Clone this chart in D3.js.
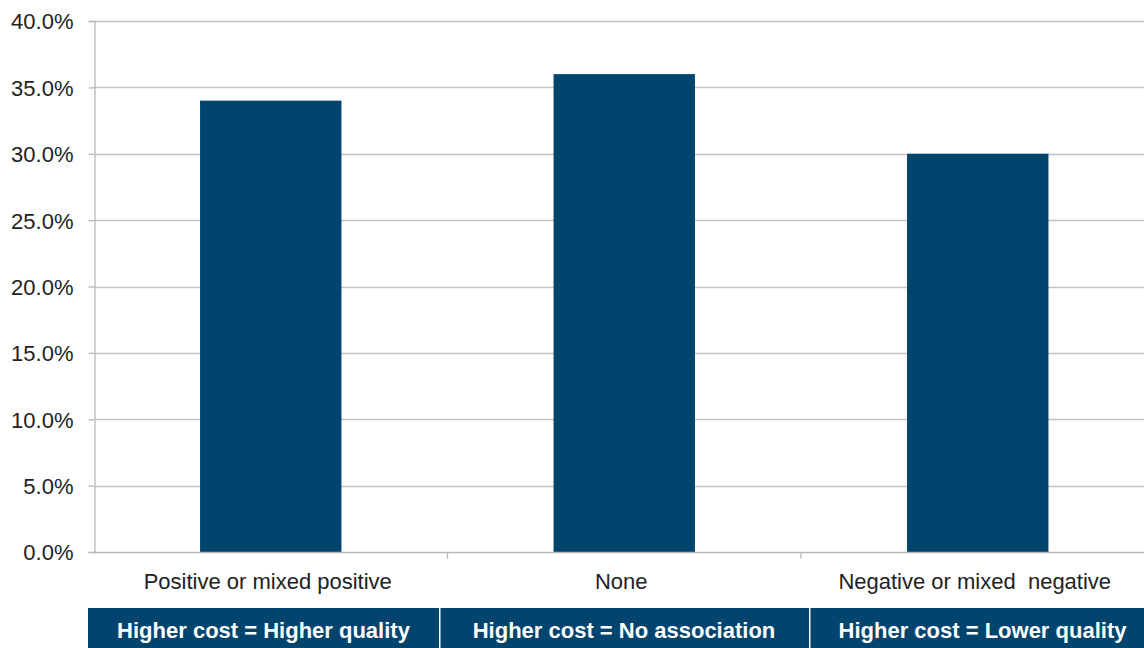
<!DOCTYPE html>
<html><head><meta charset="utf-8">
<script src="https://cdn.jsdelivr.net/npm/d3@7"></script>
<style>body{margin:0;background:#fff;overflow:hidden}svg{display:block}</style>
</head><body>
<script>
const categories = ["Positive or mixed positive", "None", "Negative or mixed  negative"];
const values = [34, 36, 30];
const yTicks = [0, 5, 10, 15, 20, 25, 30, 35, 40];
const boxLabels = ["Higher cost = Higher quality", "Higher cost = No association", "Higher cost = Lower quality"];

const W = 1144, H = 648;
const svg = d3.select("body").append("svg").attr("width", W).attr("height", H);
const x0 = 94, x1 = 1154.5, yTop = 21, yBot = 552;
const barColor = "#01456f";
const FONT = "Liberation Sans, Arial, sans-serif";
const x = d3.scaleBand().domain(categories).range([x0, x1]).paddingInner(0.6).paddingOuter(0.3);
const xb = d3.scaleBand().domain(categories).range([x0, x1]);
const y = d3.scaleLinear().domain([0, 40]).range([yBot, yTop]);

// gridlines
svg.append("g").selectAll("line").data(yTicks.filter(d => d > 0)).join("line")
  .attr("x1", x0).attr("x2", W).attr("y1", d => Math.round(y(d)) + 0.5).attr("y2", d => Math.round(y(d)) + 0.5)
  .attr("stroke", "#c4c4c4").attr("stroke-width", 1.3);

// y axis
const yAxis = svg.append("g").attr("transform", `translate(${x0 + 0.5},0)`)
  .call(d3.axisLeft(y).tickValues(yTicks).tickFormat(d => d.toFixed(1) + "%").tickSize(6).tickPadding(15));
yAxis.select(".domain").attr("stroke", "#b8b8b8").attr("stroke-width", 1.3);
yAxis.selectAll(".tick line").attr("stroke", "#b8b8b8").attr("stroke-width", 1.3);
yAxis.selectAll("text").attr("font-family", FONT).attr("font-size", 22).attr("fill", "#222").attr("dy", "0.36em");

// bars
svg.append("g").selectAll("rect").data(values).join("rect")
  .attr("x", (d, i) => x(categories[i])).attr("width", x.bandwidth())
  .attr("y", d => y(d)).attr("height", d => y(0) - y(d)).attr("fill", barColor);

// x axis
const xAxis = svg.append("g").attr("transform", `translate(0,${yBot + 0.5})`);
xAxis.append("line").attr("x1", x0).attr("x2", W).attr("stroke", "#b8b8b8").attr("stroke-width", 1.3);
xAxis.selectAll("line.t").data(categories.slice(1)).join("line").attr("class", "t")
  .attr("x1", d => xb(d)).attr("x2", d => xb(d)).attr("y1", 0).attr("y2", 6)
  .attr("stroke", "#b8b8b8").attr("stroke-width", 1.3);
xAxis.selectAll("text").data(categories).join("text")
  .attr("x", d => xb(d) + xb.bandwidth() / 2 - 3).attr("y", 36.5)
  .attr("text-anchor", "middle").attr("font-family", FONT)
  .attr("font-size", 22).attr("fill", "#222").style("white-space", "pre").text(d => d);

// bottom boxes
const boxEdges = [88, 439, 809, 1156];
const boxes = svg.append("g");
boxes.selectAll("rect").data(boxLabels).join("rect")
  .attr("x", (d, i) => boxEdges[i] + (i ? 1.5 : 0)).attr("width", (d, i) => boxEdges[i + 1] - boxEdges[i] - (i ? 1.5 : 0))
  .attr("y", 608).attr("height", 40).attr("fill", barColor);
boxes.selectAll("text").data(boxLabels).join("text")
  .attr("x", (d, i) => (boxEdges[i] + boxEdges[i + 1]) / 2)
  .attr("y", 638).attr("text-anchor", "middle").attr("font-family", FONT)
  .attr("font-weight", "bold").attr("font-size", 22).attr("fill", "#fff").text(d => d);
</script>
</body></html>
